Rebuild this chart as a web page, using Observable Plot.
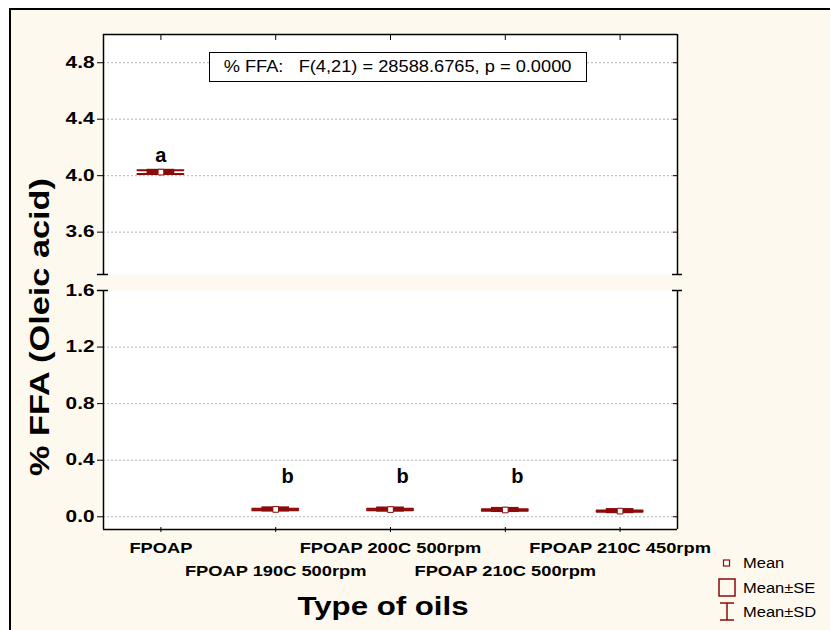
<!DOCTYPE html>
<html><head><meta charset="utf-8">
<script src="https://cdn.jsdelivr.net/npm/d3@7"></script>
<script src="https://cdn.jsdelivr.net/npm/@observablehq/plot@0.6"></script>
<style>
body{margin:0;background:#fff;}
#wrap{position:relative;width:830px;height:630px;overflow:hidden;background:#fff;font-family:"Liberation Sans",Arial,sans-serif;}
#frame{position:absolute;left:9px;top:8px;right:-10px;bottom:-10px;border-left:2px solid #000;border-top:2px solid #000;background:#fef9ee;}
#upper,#lower{position:absolute;left:0;}
#upper{top:0;} #lower{top:280px;}
#stat{position:absolute;left:209px;top:52px;width:376px;height:28px;border:1.5px solid #000;background:#fff;display:flex;align-items:center;justify-content:center;font-size:16px;white-space:pre;}
#stat span{display:inline-block;transform:scaleX(1.14);}
#xtitle{position:absolute;left:383px;top:606px;font-size:26px;font-weight:bold;white-space:nowrap;transform:translate(-50%,-50%) scaleX(1.2);}
#ytitle{position:absolute;left:40px;top:327px;font-size:27px;font-weight:bold;white-space:nowrap;transform:translate(-50%,-50%) rotate(-90deg) scaleX(1.27);}
#legend{position:absolute;left:0;top:0;}
</style></head><body>
<div id="wrap"><div id="frame"></div></div>
<script>
// ---- data ----
const oils = ["FPOAP","FPOAP 190C 500rpm","FPOAP 200C 500rpm","FPOAP 210C 500rpm","FPOAP 210C 450rpm"];
const means = [4.025, 0.052, 0.051, 0.048, 0.040];
const sds   = [0.013, 0.005, 0.005, 0.005, 0.005];
const ses   = [0.006, 0.004, 0.004, 0.004, 0.004];
const letters = ["a","b","b","b",""];
const upperTicks = [3.6, 4.0, 4.4, 4.8];
const lowerTicks = [0.0, 0.4, 0.8, 1.2, 1.6];
const statText = "% FFA:   F(4,21) = 28588.6765, p = 0.0000";
const xTitle = "Type of oils";
const yTitle = "% FFA (Oleic acid)";
const legendLabels = ["Mean","Mean\u00b1SE","Mean\u00b1SD"];

const RED = "#8b0a0a";
const rows = oils.map((oil, i) => ({i, oil, mean: means[i], sd: sds[i], se: ses[i], letter: letters[i]}));
const upperRows = rows.filter(d => d.mean > 2);
const lowerRows = rows.filter(d => d.mean <= 2);
const idx = oils.map((_, i) => i);
const fmt = d3.format(".1f");

function dataMarks(rs, letterDy, letterDx) {
  return [
    Plot.ruleX(rs, {x: "i", y1: d => d.mean - d.sd, y2: d => d.mean + d.sd, stroke: RED, strokeWidth: 1.5}),
    Plot.ruleY(rs, {y: d => d.mean - d.sd, x1: d => d.i - 0.2, x2: d => d.i + 0.2, stroke: RED, strokeWidth: 2, strokeLinecap: "round"}),
    Plot.ruleY(rs, {y: d => d.mean + d.sd, x1: d => d.i - 0.2, x2: d => d.i + 0.2, stroke: RED, strokeWidth: 2, strokeLinecap: "round"}),
    Plot.rect(rs, {x1: d => d.i - 0.103, x2: d => d.i + 0.103, y1: d => d.mean - d.se, y2: d => d.mean + d.se, fill: RED, stroke: RED, strokeWidth: 4}),
    Plot.dot(rs, {x: "i", y: "mean", symbol: "square", r: 3.2, fill: "white", stroke: RED, strokeWidth: 1}),
    Plot.text(rs.filter(d => d.letter), {x: "i", y: "mean", text: "letter", dy: letterDy, dx: letterDx, fontSize: 20, fontWeight: "bold", fill: "black"})
  ];
}

const common = {
  width: 830, marginLeft: 103, marginRight: 153,
  style: {background: "transparent", overflow: "visible", fontFamily: "'Liberation Sans', Arial, sans-serif", color: "black"},
  x: {type: "linear", domain: [-0.5, 4.5]}
};

const upper = Plot.plot({
  ...common,
  height: 280, marginTop: 34, marginBottom: 6,
  y: {domain: [3.3, 5.0]},
  marks: [
    Plot.frame({fill: "white", stroke: "none"}),
    Plot.gridY(upperTicks, {stroke: "#b4b4b4", strokeOpacity: 1, strokeDasharray: "2,2"}),
    Plot.ruleX([-0.5, 4.5], {y1: 3.3, y2: 5.0, stroke: "black", strokeWidth: 1.5}),
    Plot.ruleY([5.0], {stroke: "black", strokeWidth: 1.5}),
    Plot.ruleY([3.3], {x1: -0.5, x2: -0.5, insetLeft: -6, insetRight: -5, stroke: "black", strokeWidth: 1.5}),
    Plot.ruleY([3.3], {x1: 4.5, x2: 4.5, insetLeft: -5, insetRight: -5, stroke: "black", strokeWidth: 1.5}),
    Plot.axisY(upperTicks, {anchor: "left", tickSize: 6, tickPadding: 3, tickFormat: fmt, fontSize: 16, fontWeight: "bold", label: null}),
    Plot.axisY(upperTicks, {anchor: "right", tickSize: 5, dx: -5, tickFormat: () => "", label: null}),
    Plot.axisX(idx, {anchor: "top", tickSize: 5, dy: 5, tickFormat: () => "", label: null}),
    ...dataMarks(upperRows, -17, 0)
  ]
});

const lower = Plot.plot({
  ...common,
  height: 350, marginTop: 10, marginBottom: 101,
  y: {domain: [-0.09, 1.6]},
  marks: [
    Plot.frame({fill: "white", stroke: "none"}),
    Plot.gridY(lowerTicks.filter(t => t < 1.6), {stroke: "#b4b4b4", strokeOpacity: 1, strokeDasharray: "2,2"}),
    Plot.ruleX([-0.5, 4.5], {y1: -0.09, y2: 1.6, stroke: "black", strokeWidth: 1.5}),
    Plot.ruleY([-0.09], {stroke: "black", strokeWidth: 1.5}),
    Plot.ruleY([1.6], {x1: -0.5, x2: -0.5, insetLeft: -6, insetRight: -5, stroke: "black", strokeWidth: 1.5}),
    Plot.ruleY([1.6], {x1: 4.5, x2: 4.5, insetLeft: -5, insetRight: -5, stroke: "black", strokeWidth: 1.5}),
    Plot.axisY(lowerTicks, {anchor: "left", tickSize: 6, tickPadding: 3, tickFormat: fmt, fontSize: 16, fontWeight: "bold", label: null}),
    Plot.axisY(lowerTicks.filter(t => t < 1.6), {anchor: "right", tickSize: 5, dx: -5, tickFormat: () => "", label: null}),
    Plot.axisX(idx, {anchor: "bottom", tickSize: 5, dy: -2, tickFormat: () => "", label: null}),
    Plot.axisX(idx.filter(i => i % 2 === 0), {anchor: "bottom", tickSize: 0, tickPadding: 13, tickFormat: i => oils[i], fontSize: 15, fontWeight: "bold", label: null}),
    Plot.axisX(idx.filter(i => i % 2 === 1), {anchor: "bottom", tickSize: 0, tickPadding: 36, tickFormat: i => oils[i], fontSize: 15, fontWeight: "bold", label: null}),
    ...dataMarks(lowerRows, -33, 12)
  ]
});

upper.id = "upper"; lower.id = "lower";
const wrap = document.getElementById("wrap");
wrap.appendChild(upper);
wrap.appendChild(lower);

// stretch tick labels horizontally (reference glyphs are wide)
for (const svg of [upper, lower]) {
  svg.querySelectorAll('g[aria-label="y-axis tick label"] text').forEach(t => {
    t.setAttribute("transform", (t.getAttribute("transform") || "") + " scale(1.3,1)");
  });
  svg.querySelectorAll('g[aria-label="x-axis tick label"] text').forEach(t => {
    t.setAttribute("transform", (t.getAttribute("transform") || "") + " scale(1.22,1)");
  });
}

// stats box
const stat = document.createElement("div");
stat.id = "stat";
stat.innerHTML = "<span></span>";
stat.firstChild.textContent = statText;
wrap.appendChild(stat);

// titles
const xt = document.createElement("div"); xt.id = "xtitle"; xt.textContent = xTitle; wrap.appendChild(xt);
const yt = document.createElement("div"); yt.id = "ytitle"; yt.textContent = yTitle; wrap.appendChild(yt);

// legend
const ns = "http://www.w3.org/2000/svg";
const lg = document.createElementNS(ns, "svg");
lg.setAttribute("id", "legend"); lg.setAttribute("width", 830); lg.setAttribute("height", 630);
const ys = [563, 588, 612];
let html = "";
html += `<rect x="723.5" y="560" width="6" height="6" fill="white" stroke="${RED}" stroke-width="1.2"/>`;
html += `<rect x="719" y="579" width="16" height="17" fill="none" stroke="${RED}" stroke-width="1.5"/>`;
html += `<line x1="727" y1="603" x2="727" y2="620" stroke="${RED}" stroke-width="1.5"/>`;
html += `<line x1="720" y1="603" x2="734" y2="603" stroke="${RED}" stroke-width="1.5"/>`;
html += `<line x1="720" y1="620" x2="734" y2="620" stroke="${RED}" stroke-width="1.5"/>`;
lg.innerHTML = html;
legendLabels.forEach((s, k) => {
  const t = document.createElementNS(ns, "text");
  t.setAttribute("x", 0); t.setAttribute("y", 0);
  t.setAttribute("transform", `translate(743,${ys[k]}) scale(1.1,1)`);
  t.setAttribute("dy", "0.35em");
  t.setAttribute("font-size", "15");
  t.setAttribute("font-family", "'Liberation Sans', Arial, sans-serif");
  t.textContent = s;
  lg.appendChild(t);
});
wrap.appendChild(lg);
</script>
</body></html>
